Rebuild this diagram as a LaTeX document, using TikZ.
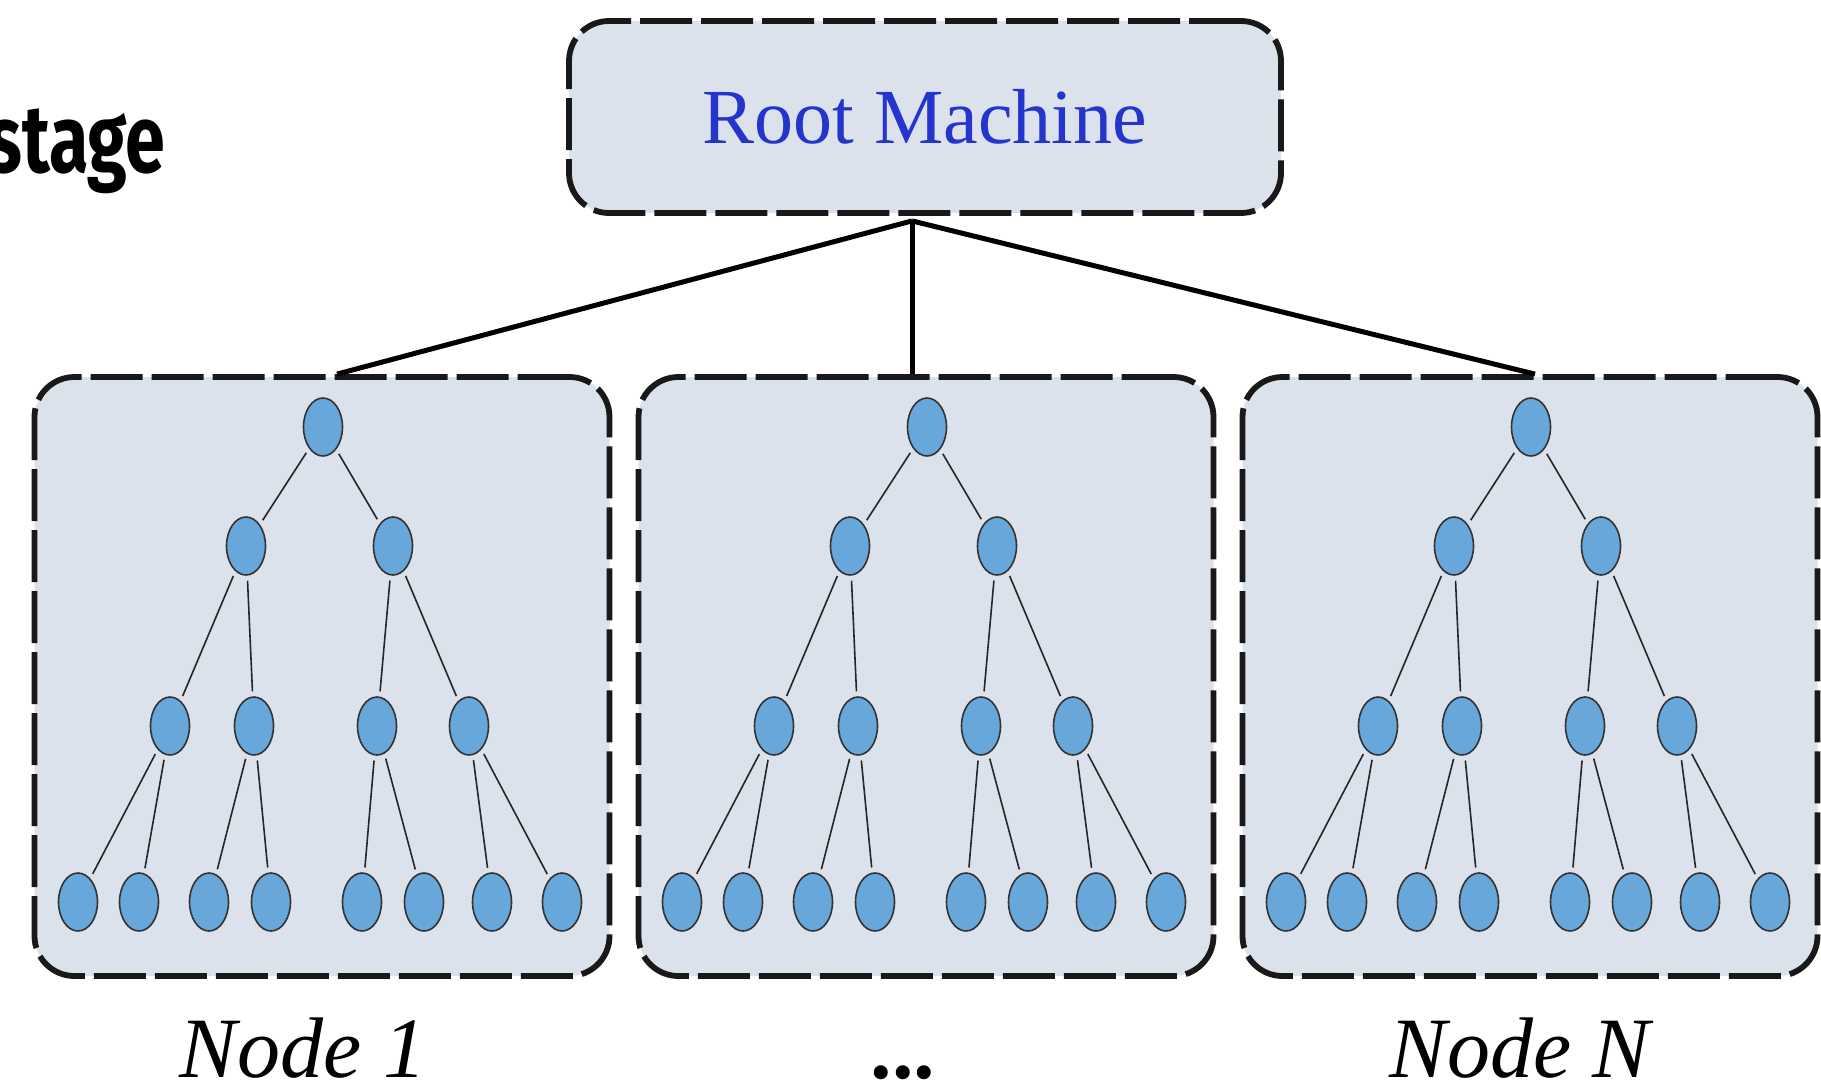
\documentclass[tikz,border=0pt]{standalone}
\usepackage{fontspec}
\setmainfont{Liberation Serif}
\newfontfamily\stagefont{Fira Sans}[FakeStretch=0.75]
\usepackage{xcolor}
\usepackage{tikz}
\usetikzlibrary{shapes.geometric,positioning,calc}

\definecolor{boxgray}{RGB}{219,226,235}
\definecolor{nodeblue}{RGB}{103,167,218}
\definecolor{rootblue}{RGB}{36,52,204}

\begin{document}
\begin{tikzpicture}[x=0.5pt, y=-0.5pt,
    machine/.style={draw=black!90, line width=2.9pt, dash pattern=on 26pt off 4.5pt,
        rounded corners=20pt, fill=boxgray},
    tnode/.style={ellipse, draw=black!80, line width=0.8pt, fill=nodeblue,
        minimum width=19.5pt, minimum height=29pt, inner sep=0pt},
    edge/.style={line width=0.8pt, black!85, shorten <=2.5pt, shorten >=2.5pt},
    link/.style={line width=2.5pt, black}]
    \useasboundingbox (0,0) rectangle (1821,1082);

    % heading on the left
    \node[anchor=base east, inner sep=0pt, font=\stagefont\bfseries\fontsize{48}{56}\selectfont] (stage) at (166,172) {stage};

    % root machine
    \node[machine, minimum width=356pt, minimum height=96pt, text=rootblue,
        font=\fontsize{39}{46}\selectfont] (root) at (925,117) {Root Machine};

    % one machine per node, each holding a tree
    \foreach \k/\bx in {1/322, 2/926, 3/1530} {
        \node[machine, minimum width=287.5pt, minimum height=299.5pt] (m\k) at (\bx,676.5) {};

        \node[tnode] (n\k-r) at ({\bx+1},427) {};
        \node[tnode] (n\k-a) at ({\bx-76},546) {};
        \node[tnode] (n\k-b) at ({\bx+71},546) {};
        \node[tnode] (n\k-c) at ({\bx-152},726) {};
        \node[tnode] (n\k-d) at ({\bx-68},726) {};
        \node[tnode] (n\k-e) at ({\bx+55},726) {};
        \node[tnode] (n\k-f) at ({\bx+147},726) {};
        \foreach \x [count=\j] in {-244,-183,-113,-51,40,102,170,240}
            \node[tnode] (n\k-l\j) at ({\bx+\x},902) {};

        \foreach \p/\c in {r/a, r/b, a/c, a/d, b/e, b/f, c/l1, c/l2, d/l3, d/l4, e/l5, e/l6, f/l7, f/l8}
            \draw[edge] (n\k-\p) -- (n\k-\c);
    }

    % links from the root machine
    \coordinate (hub) at ($(root.south)+(-13,5)$);
    \draw[link] (hub) -- ([xshift=7.5pt]m1.north);
    \draw[link] (hub) -- (hub |- m2.north);
    \draw[link] (hub) -- ([xshift=2.5pt]m3.north);

    % labels under the machines
    \node[anchor=base, inner sep=0pt, font=\itshape\fontsize{43}{50}\selectfont] (lab1) at (303,1077) {Node 1};
    \node[anchor=base, inner sep=0pt, font=\bfseries\fontsize{43}{50}\selectfont] (dots) at (903,1078) {...};
    \node[anchor=base, inner sep=0pt, font=\itshape\fontsize{43}{50}\selectfont] (labN) at (1520,1077) {Node N};
\end{tikzpicture}
\end{document}
